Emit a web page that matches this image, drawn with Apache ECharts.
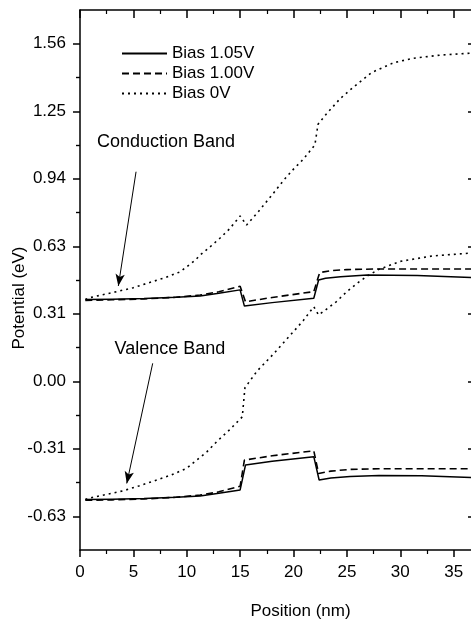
<!DOCTYPE html>
<html>
<head>
<meta charset="utf-8">
<script src="https://cdn.jsdelivr.net/npm/echarts@6/dist/echarts.min.js"></script>
<style>
  html, body { margin: 0; padding: 0; background: #fff; }
  #chart { width: 471px; height: 626px; }
</style>
</head>
<body>
<div id="chart"></div>
<script>
// band edges, [position nm, potential eV]
var cb105 = [[0.5,0.378],[3,0.380],[6,0.383],[9,0.389],[11.25,0.395],[13,0.407],[15,0.423],[15.4,0.348],[18,0.364],[21.9,0.384],[22.35,0.469],[23,0.477],[24.4,0.484],[26.9,0.492],[31.6,0.490],[37,0.480]];
var cb100 = [[0.5,0.374],[3,0.377],[6,0.381],[9,0.389],[11.25,0.399],[13,0.414],[15,0.440],[15.5,0.368],[18,0.388],[21.9,0.415],[22.45,0.503],[23.5,0.512],[25,0.517],[28,0.520],[37,0.520]];
var cb0 = [[0.5,0.379],[1,0.388],[3,0.410],[5,0.433],[6.25,0.453],[8,0.480],[9.4,0.507],[10.8,0.561],[11.25,0.584],[11.9,0.610],[13.1,0.662],[14,0.705],[15,0.765],[15.6,0.723],[16.7,0.785],[18.06,0.867],[19.1,0.932],[20,0.982],[20.9,1.027],[22,1.094],[22.3,1.19],[23,1.233],[24.4,1.31],[25.6,1.361],[27.3,1.429],[29.4,1.475],[31.2,1.495],[33.75,1.51],[37,1.52]];
var vb105 = [[0.5,-0.548],[3,-0.546],[6,-0.543],[9,-0.537],[11.25,-0.531],[13,-0.519],[15,-0.503],[15.5,-0.388],[18,-0.370],[21.9,-0.349],[22.4,-0.457],[23.5,-0.448],[25.3,-0.441],[28,-0.436],[32,-0.438],[37,-0.446]];
var vb100 = [[0.5,-0.551],[3,-0.549],[6,-0.545],[9,-0.537],[11.25,-0.527],[13,-0.512],[15,-0.486],[15.4,-0.365],[18,-0.345],[21.9,-0.322],[22.35,-0.427],[23.5,-0.416],[25.3,-0.408],[28,-0.405],[37,-0.405]];
var vb0 = [[0.5,-0.547],[1.25,-0.537],[4.06,-0.507],[5.5,-0.485],[7.2,-0.457],[8.6,-0.433],[10,-0.403],[10.8,-0.37],[11.9,-0.326],[12.8,-0.28],[14,-0.225],[15.2,-0.165],[15.45,-0.03],[16.6,0.048],[18.1,0.125],[20,0.23],[20.9,0.28],[21.9,0.345],[22.35,0.307],[23,0.33],[24,0.368],[25,0.415],[26,0.455],[27,0.49],[28,0.518],[30,0.555],[33,0.58],[37,0.595]];

// arrows: from label to curve
var condArrow = [[5.25,0.970],[3.59,0.441]];
var valArrow = [[6.81,0.083],[4.38,-0.473]];

var legendNames = ['Bias 1.05V','Bias 1.00V','Bias 0V'];
var yTickValues = [-0.625,-0.3125,0,0.3125,0.625,0.9375,1.25,1.5625];
var yTickLabels = ['-0.63','-0.31','0.00','0.31','0.63','0.94','1.25','1.56'];
var yMinorValues = [-0.46875,-0.15625,0.15625,0.46875,0.78125,1.09375,1.40625];

var font = 'Liberation Sans, Arial, sans-serif';
var yMin = -0.78125, yMax = 1.71875;

var myChart = echarts.init(document.getElementById('chart'));

function yLabel(v) {
	for (var i = 0; i < yTickValues.length; i++) {
		if (Math.abs(yTickValues[i] - v) < 1e-6) return yTickLabels[i];
	}
	return '';
}

function line(name, data, type) {
	return {
		name: name, type: 'line', data: data, symbol: 'none', silent: true,
		lineStyle: { color: '#000', width: type == 'solid' ? 1.5 : 1.6, type: type },
		itemStyle: { color: '#000' }
	};
}

var s1 = line(legendNames[0], cb105, 'solid');
s1.markLine = {
	silent: true, animation: false,
	symbol: ['none', 'arrow'], symbolSize: [7, 12],
	label: { show: false },
	lineStyle: { color: '#000', width: 1, type: 'solid' },
	data: [
		[{ coord: condArrow[0] }, { coord: condArrow[1] }],
		[{ coord: valArrow[0] }, { coord: valArrow[1] }]
	]
};

var axisLine = { show: true, onZero: false, lineStyle: { color: '#000', width: 1.5 } };

var option = {
	animation: false,
	backgroundColor: '#fff',
	grid: { left: 80, top: 10, right: -4, bottom: 76, containLabel: false, outerBoundsMode: 'none' },
	legend: {
		orient: 'vertical', left: 121, top: 45, padding: 0,
		itemWidth: 45, itemHeight: 14, itemGap: 3,
		selectedMode: false,
		itemStyle: { opacity: 0 },
		textStyle: { fontFamily: font, fontSize: 17, color: '#000' },
		data: legendNames
	},
	xAxis: [{
		type: 'value', min: 0, max: 37, interval: 5, position: 'bottom',
		axisLine: axisLine,
		axisTick: { show: true, inside: false, length: 7, lineStyle: { color: '#000', width: 1.5 } },
		minorTick: { show: true, splitNumber: 2, length: 4, lineStyle: { color: '#000', width: 1.2 } },
		splitLine: { show: false },
		axisLabel: { margin: 14, fontFamily: font, fontSize: 17, color: '#000', showMaxLabel: false },
		name: 'Position (nm)', nameLocation: 'middle', nameGap: 53, nameMoveOverlap: false,
		nameTextStyle: { fontFamily: font, fontSize: 17, color: '#000', padding: [0, 0, 0, 46] }
	}, {
		type: 'value', min: 0, max: 37, interval: 5, position: 'top',
		axisLine: axisLine,
		axisTick: { show: true, inside: true, length: 8, lineStyle: { color: '#000', width: 1.5 } },
		minorTick: { show: true, splitNumber: 2, length: 4, lineStyle: { color: '#000', width: 1.2 } },
		splitLine: { show: false },
		axisLabel: { show: false }
	}],
	yAxis: [{
		type: 'value', min: yMin, max: yMax, position: 'left',
		axisLine: axisLine,
		axisTick: { show: true, inside: false, length: 7, customValues: yTickValues, lineStyle: { color: '#000', width: 1.5 } },
		axisLabel: { margin: 14, customValues: yTickValues, formatter: yLabel, fontFamily: font, fontSize: 17, color: '#000' },
		splitLine: { show: false },
		name: 'Potential (eV)', nameLocation: 'middle', nameGap: 52, nameMoveOverlap: false,
		nameTextStyle: { fontFamily: font, fontSize: 17, color: '#000', padding: [0, 36, 0, 0] }
	}, {
		type: 'value', min: yMin, max: yMax, position: 'left', offset: 0,
		axisLine: { show: false },
		axisTick: { show: true, inside: false, length: 4, customValues: yMinorValues, lineStyle: { color: '#000', width: 1.2 } },
		axisLabel: { show: false },
		splitLine: { show: false }
	}, {
		type: 'value', min: yMin, max: yMax, position: 'right', offset: 0,
		axisLine: axisLine,
		axisTick: { show: true, inside: true, length: 7, customValues: yTickValues, lineStyle: { color: '#000', width: 1.5 } },
		axisLabel: { show: false },
		splitLine: { show: false }
	}, {
		type: 'value', min: yMin, max: yMax, position: 'right', offset: 0,
		axisLine: { show: false },
		axisTick: { show: true, inside: true, length: 4, customValues: yMinorValues, lineStyle: { color: '#000', width: 1.2 } },
		axisLabel: { show: false },
		splitLine: { show: false }
	}],
	graphic: [
		{ type: 'text', x: 166, y: 142, silent: true,
		  style: { text: 'Conduction Band', fill: '#000', font: '18px ' + font, textAlign: 'center', textVerticalAlign: 'middle' } },
		{ type: 'text', x: 170, y: 349, silent: true,
		  style: { text: 'Valence Band', fill: '#000', font: '18px ' + font, textAlign: 'center', textVerticalAlign: 'middle' } }
	],
	series: [
		s1,
		line(legendNames[1], cb100, [7, 4]),
		line(legendNames[2], cb0, [2, 4]),
		line(legendNames[0], vb105, 'solid'),
		line(legendNames[1], vb100, [7, 4]),
		line(legendNames[2], vb0, [2, 4])
	]
};
myChart.setOption(option);
</script>
</body>
</html>
